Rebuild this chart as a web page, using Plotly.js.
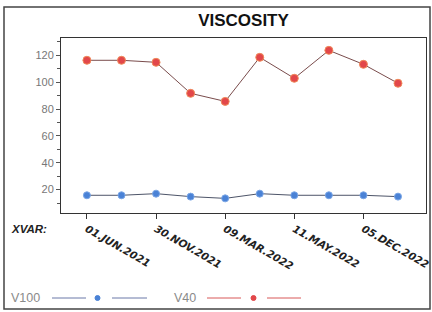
<!DOCTYPE html>
<html><head><meta charset="utf-8">
<script src="https://cdn.plot.ly/plotly-3.0.1.min.js"></script>
<style>html,body{margin:0;padding:0;background:#fff}#chart{width:432px;height:312px}</style>
</head><body><div id="chart"></div>
<script>
// Data
const xIndex = [0, 1, 2, 3, 4, 5, 6, 7, 8, 9];
const v100 = [15.8, 15.8, 17.0, 14.8, 13.5, 17.0, 15.8, 15.8, 15.8, 14.8];
const v40 = [116.3, 116.3, 114.8, 91.7, 85.7, 118.5, 102.9, 123.7, 113.3, 99.2];
const tickPositions = [0, 2, 4, 6, 8];
const tickLabels = ['01.JUN.2021', '30.NOV.2021', '09.MAR.2022', '11.MAY.2022', '05.DEC.2022'];
const seriesNames = ['V100', 'V40'];

const W = 432, H = 312, L = 61, R = 6, T = 38, B = 99;
const pw = W - L - R, ph = H - T - B;
const px = x => (x - L) / pw;
const py = y => (H - B - y) / ph;

const traces = [
  {x: xIndex, y: v100, name: seriesNames[0], mode: 'lines+markers', type: 'scatter',
   line: {color: '#4d5468', width: 1}, marker: {color: '#4a82d6', size: 7, line: {color: '#7aa6e6', width: 1}}},
  {x: xIndex, y: v40, name: seriesNames[1], mode: 'lines+markers', type: 'scatter',
   line: {color: '#7a4c4c', width: 1}, marker: {color: '#e2474a', size: 8, line: {color: '#f08a5a', width: 1}}}
];

const legendY = 298;
const shapes = [
  {type: 'rect', xref: 'paper', yref: 'paper', x0: px(4), x1: px(430), y0: py(309), y1: py(7),
   line: {color: '#444', width: 1.5}},
  // legend samples
  {type: 'line', xref: 'paper', yref: 'paper', x0: px(52), x1: px(86), y0: py(legendY), y1: py(legendY), line: {color: '#6a78a8', width: 1}},
  {type: 'line', xref: 'paper', yref: 'paper', x0: px(112), x1: px(147), y0: py(legendY), y1: py(legendY), line: {color: '#6a78a8', width: 1}},
  {type: 'circle', xref: 'paper', yref: 'paper', x0: px(95), x1: px(100), y0: py(legendY + 2.5), y1: py(legendY - 2.5), fillcolor: '#4a82d6', line: {color: '#4a82d6', width: 1}},
  {type: 'line', xref: 'paper', yref: 'paper', x0: px(207), x1: px(241), y0: py(legendY), y1: py(legendY), line: {color: '#d85858', width: 1}},
  {type: 'line', xref: 'paper', yref: 'paper', x0: px(267), x1: px(301), y0: py(legendY), y1: py(legendY), line: {color: '#d85858', width: 1}},
  {type: 'circle', xref: 'paper', yref: 'paper', x0: px(251), x1: px(256), y0: py(legendY + 2.5), y1: py(legendY - 2.5), fillcolor: '#e2474a', line: {color: '#e2474a', width: 1}}
];

const annotations = [
  {text: '<b><i>XVAR:</i></b>', xref: 'paper', yref: 'paper', x: px(9), y: py(229), xanchor: 'left', yanchor: 'middle',
   showarrow: false, font: {family: 'Liberation Sans, Arial, sans-serif', size: 11.5, color: '#222'}},
  {text: seriesNames[0], xref: 'paper', yref: 'paper', x: px(9), y: py(legendY), xanchor: 'left', yanchor: 'middle',
   showarrow: false, font: {family: 'Liberation Sans, Arial, sans-serif', size: 12.5, color: '#8a8a8a'}},
  {text: seriesNames[1], xref: 'paper', yref: 'paper', x: px(172), y: py(legendY), xanchor: 'left', yanchor: 'middle',
   showarrow: false, font: {family: 'Liberation Sans, Arial, sans-serif', size: 12.5, color: '#8a8a8a'}}
];

const layout = {
  width: W, height: H,
  margin: {l: L, r: R, t: T, b: B, pad: 0},
  paper_bgcolor: '#fff', plot_bgcolor: '#fff',
  showlegend: false,
  title: {text: '<b>VISCOSITY</b>', x: 0.5, xref: 'paper', y: 1 - 20 / H, yanchor: 'middle',
          font: {family: 'Liberation Sans, Arial, sans-serif', size: 17, color: '#111'}},
  xaxis: {range: [-0.75, 9.81], showgrid: false, zeroline: false,
          tickmode: 'array', tickvals: tickPositions, ticktext: tickLabels.map(t => '<b><i>' + t + '</i></b>'),
          tickangle: 30, ticks: 'outside', ticklen: 5, tickcolor: '#333',
          showline: true, linecolor: '#333', linewidth: 1, mirror: true,
          tickfont: {family: 'DejaVu Sans, sans-serif', size: 10.5, color: '#222'}},
  yaxis: {range: [2.6, 132.9], showgrid: false, zeroline: false,
          tickmode: 'array', tickvals: [20, 40, 60, 80, 100, 120],
          ticks: 'outside', ticklen: 4, tickcolor: '#555',
          minor: {tickmode: 'array', tickvals: [10, 30, 50, 70, 90, 110, 130], ticks: 'outside', ticklen: 3, tickcolor: '#555'},
          showline: true, linecolor: '#333', linewidth: 1, mirror: true,
          tickfont: {family: 'Liberation Sans, Arial, sans-serif', size: 11, color: '#777'}},
  shapes: shapes,
  annotations: annotations
};

Plotly.newPlot('chart', traces, layout, {displayModeBar: false, staticPlot: true});
</script>
</body></html>
